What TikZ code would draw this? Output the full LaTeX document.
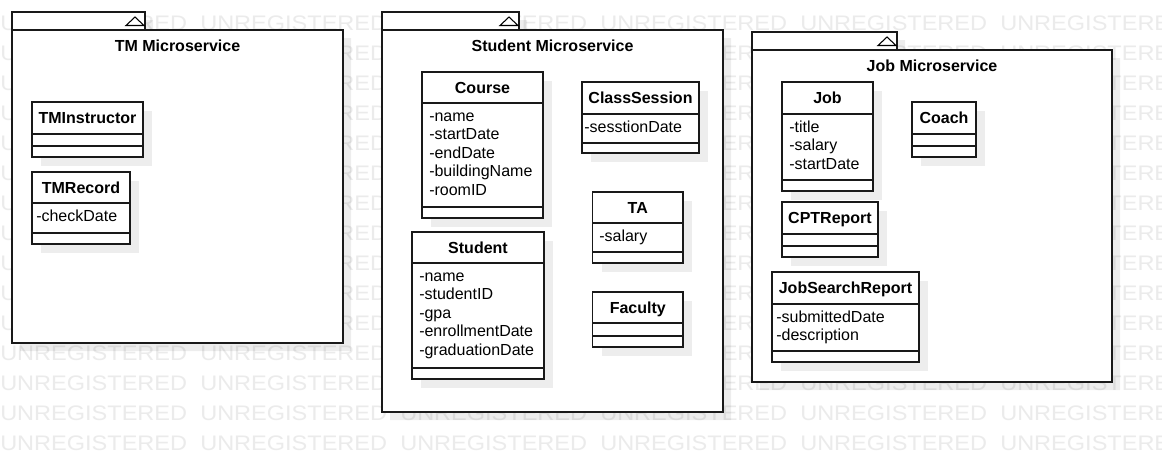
\documentclass[tikz,border=0pt]{standalone}
\usepackage{fontspec}
\setmainfont{Liberation Sans}
\tikzset{
  wm/.style={text=black!8, inner sep=0pt, anchor=base west, font=\fontsize{15.75}{16}\selectfont},
  shadowfill/.style={fill=black, fill opacity=0.07, draw=none},
  border/.style={draw=black!90, line width=1pt, fill=white},
  sepline/.style={draw=black!90, line width=1pt},
  clsname/.style={inner sep=0pt, anchor=base, font=\bfseries\fontsize{12}{14}\selectfont},
  pkgname/.style={inner sep=0pt, anchor=base, font=\bfseries\fontsize{12}{14}\selectfont},
  attr/.style={inner sep=0pt, anchor=base west, font=\fontsize{12}{14}\selectfont},
  pkgtri/.style={draw=black, line width=0.8pt, fill=white}
}
% #1 id, #2 x1, #3 y tab top, #4 x tab right, #5 y body top, #6 x2, #7 y2, #8 title
\newcommand{\umlpkg}[8]{%
  \fill[shadowfill, shift={(8,8)}] (#2,#3) -- (#4,#3) -- (#4,#5) -- (#6,#5) -- (#6,#7) -- (#2,#7) -- cycle;
  \draw[border] (#2,#3) rectangle (#4,#5);
  \draw[border] (#2,#5) rectangle (#6,#7);
  \draw[pkgtri] (#4-19,#3+13.5) -- (#4-1,#3+13.5) -- (#4-10,#3+5) -- cycle;
  \node[pkgname] (#1) at ({(#2+#6)/2},#5+21.7) {#8};
}
% #1 id, #2 x1, #3 y1, #4 x2, #5 header bottom, #6 attr bottom, #7 y2, #8 title
\newcommand{\umlclass}[8]{%
  \fill[shadowfill, shift={(9,9)}] (#2,#3) rectangle (#4,#7);
  \draw[border] (#2,#3) rectangle (#4,#7);
  \draw[sepline] (#2,#5) -- (#4,#5);
  \draw[sepline] (#2,#6) -- (#4,#6);
  \node[clsname] (#1) at ({(#2+#4)/2},{(#3+#5)/2+5.7}) {#8};
}
% #1 id, #2 x, #3 header bottom, #4 list
\newcommand{\umlattrs}[4]{%
  \foreach \a [count=\i from 0] in {#4} {\node[attr] (#1-\i) at (#2,{#3+18.4+18.5*\i}) {\a};}
}
\begin{document}
\begin{tikzpicture}[x=0.75pt,y=-0.75pt]
\useasboundingbox (0,0) rectangle (1162,462);
\fill[white] (0,0) rectangle (1162,462);
\begin{scope}
  \clip (0,0) rectangle (1162,462);
  \foreach \r in {0,...,14} {
    \foreach \c in {0,...,5} {
      \pgfmathtruncatemacro\wmhide{((\c==2)&&(\r>=1)&&(\r<=12))||((\c==4)&&(\r>=2)&&(\r<=11))}
      \ifnum\wmhide=0
        \node[wm] (wm-\r-\c) at (200*\c,30+30*\r) {\scalebox{1.12}[1]{UNREGISTERED}};
      \fi
    }
  }
\end{scope}

% TM package
\umlpkg{tmpkg}{12}{12}{145}{30}{343}{343}{TM Microservice}
\umlclass{tminstructor}{32}{102}{143}{134}{146}{157}{TMInstructor}
\umlclass{tmrecord}{32}{172}{130}{203}{233}{244}{TMRecord}
\umlattrs{tmrecord}{36}{203}{-checkDate}

% Student package
\umlpkg{studentpkg}{382}{12}{519}{30}{723}{412}{Student Microservice}
\umlclass{course}{422}{72}{543}{103}{207}{218}{Course}
\umlattrs{course}{429}{103}{-name,-startDate,-endDate,-buildingName,-roomID}
\umlclass{classsession}{582}{82}{699}{114}{143}{153}{ClassSession}
\umlattrs{classsession}{584}{114}{-sesstionDate}
\umlclass{ta}{592.5}{192}{683}{223}{252}{263}{TA}
\umlattrs{ta}{599}{223}{-salary}
\umlclass{faculty}{592.5}{292}{683}{323}{336}{347}{Faculty}
\umlclass{student}{412}{232}{544}{263}{368}{379}{Student}
\umlattrs{student}{419}{263}{-name,-studentID,-gpa,-enrollmentDate,-graduationDate}

% Job package
\umlpkg{jobpkg}{752}{32}{897}{50}{1112}{382}{Job Microservice}
\umlclass{job}{782}{82}{873}{114}{180}{191}{Job}
\umlattrs{job}{789}{114}{-title,-salary,-startDate}
\umlclass{coach}{912}{102}{976}{134}{146}{157}{Coach}
\umlclass{cptreport}{782}{202}{878}{234}{246}{257}{CPTReport}
\umlclass{jobsearchreport}{772}{272}{919}{304}{351}{362}{JobSearchReport}
\umlattrs{jobsearchreport}{776}{304}{-submittedDate,-description}
\end{tikzpicture}
\end{document}
